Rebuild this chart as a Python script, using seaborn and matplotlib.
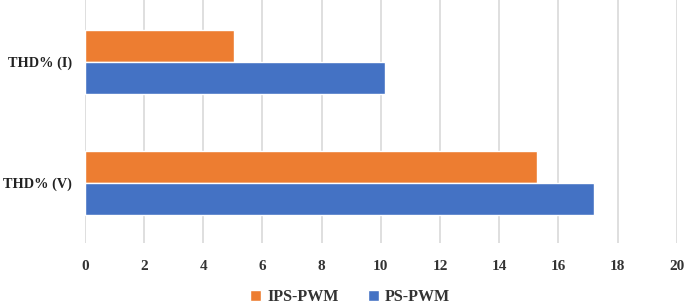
import matplotlib
matplotlib.use("Agg")
import matplotlib.pyplot as plt
import seaborn as sns
import pandas as pd

categories = ["THD% (I)", "THD% (V)"]
series = ["IPS-PWM", "PS-PWM"]
ips_pwm = [5.05, 15.28]
ps_pwm = [10.15, 17.2]
xticks = [0, 2, 4, 6, 8, 10, 12, 14, 16, 18, 20]

df = pd.DataFrame({
    "cat": categories * 2,
    "series": [series[0]] * 2 + [series[1]] * 2,
    "value": ips_pwm + ps_pwm,
})

sns.set_theme(style="white")
plt.rcParams["font.family"] = ["Liberation Serif", "DejaVu Serif"]
plt.rcParams["font.weight"] = "bold"

fig = plt.figure(figsize=(6.85, 3.05), dpi=100)
ax = fig.add_axes([0.124, 0.203, 0.864, 0.797])
sns.barplot(data=df, y="cat", x="value", hue="series", hue_order=series,
            order=categories, orient="h", palette=["#ED7D31", "#4472C4"],
            width=0.53, saturation=1, ax=ax, legend=True)
ax.set_xlim(0, 20)
ax.set_ylim(1.496, -0.512)
ax.set_xticks(xticks)
ax.set_xticklabels([str(t) for t in xticks], fontsize=11, fontweight="bold", color="#333333")
ax.tick_params(axis="y", labelsize=10.3, colors="#222222", length=0, pad=9.5)
ax.tick_params(axis="x", length=0, pad=12)
for lbl in ax.get_yticklabels():
    lbl.set_fontweight("bold")
ax.set_xlabel("")
ax.set_ylabel("")
ax.grid(axis="x", color="#D9D9D9", linewidth=1.2)
ax.set_axisbelow(True)
for s in ax.spines.values():
    s.set_visible(False)
leg = ax.legend(loc="lower center", bbox_to_anchor=(0.448, -0.315), ncol=2,
                frameon=False, handlelength=0.7, handleheight=0.7,
                columnspacing=1.8, handletextpad=0.4,
                prop={"size": 11.5, "weight": "bold"})
for t in leg.get_texts():
    t.set_color("#333333")
fig.savefig("out.png", dpi=100)
